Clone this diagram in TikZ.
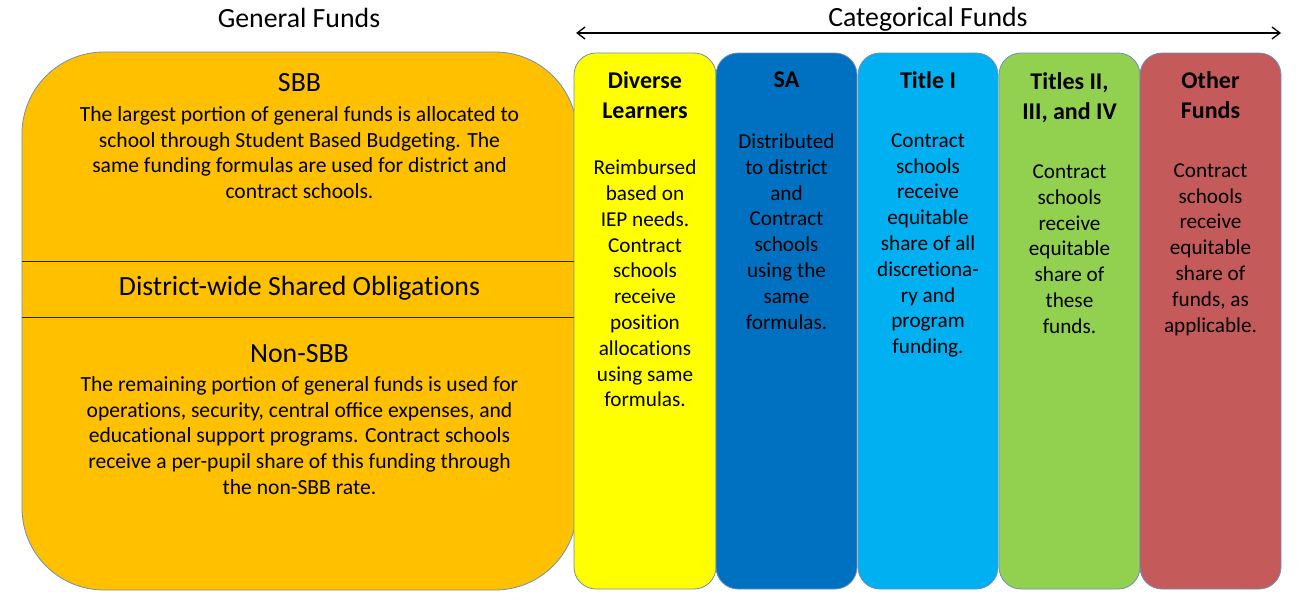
\documentclass[tikz,border=0pt]{standalone}
\usepackage{fontspec}
\setmainfont{Carlito}
\usetikzlibrary{arrows.meta}
\definecolor{gfund}{HTML}{FFC000}
\definecolor{dlcol}{HTML}{FFFF00}
\definecolor{sacol}{HTML}{0070C0}
\definecolor{ticol}{HTML}{00B0F0}
\definecolor{tiicol}{HTML}{92D050}
\definecolor{othcol}{HTML}{C55A5A}
\definecolor{bord}{HTML}{6F8FB8}
\newcommand\nolig{\kern0pt }
\tikzset{
  gtitle/.style={font=\fontsize{27.8}{33}\selectfont, inner sep=0pt},
  gbody/.style={font=\fontsize{21.6}{25.8}\selectfont, align=center, inner sep=0pt},
  ctitle/.style={font=\fontsize{24}{30}\selectfont\bfseries, align=center, inner sep=0pt},
  cbody/.style={font=\fontsize{21.2}{25.8}\selectfont, align=center, inner sep=0pt},
  colbox/.style={draw=bord, line width=0.8pt, rounded corners=22pt, minimum width=#1, minimum height=536pt, inner sep=0pt},
  genbox/.style={draw=bord, line width=0.8pt, fill=gfund, rounded corners=82pt, minimum width=555pt, minimum height=538pt, inner sep=0pt},
  divider/.style={draw=black!85, line width=0.9pt},
  spanarrow/.style={draw=black, line width=1.3pt, {Straight Barb[length=8pt,width=12pt]}-{Straight Barb[length=8pt,width=12pt]}}
}
\begin{document}
\begin{tikzpicture}[x=1pt,y=-1pt]
\useasboundingbox (0,0) rectangle (1300,603);
% headings
\node[gtitle] (gfh) at (299,18) {General Funds};
\node[gtitle] (cfh) at (928,19.5) {Categorical Funds};
\coordinate (al) at (576,33);
\coordinate (ar) at (1281,33);
\draw[spanarrow] (al) -- (ar);
% general funds box
\node[genbox] (gen) at (299.5,321) {};
\draw[divider] (22.4,261) -- (576.6,261);
\draw[divider] (22.4,317) -- (576.6,317);
\node[gtitle] (sbbt) at (299.5,83) {SBB};
\node[gbody] (sbbb) at (299.5,152.5) {The largest portion of general funds is allocated to\\school through Student Based Budget\nolig ing. The\\same funding formulas are used for district and\\contract schools.};
\node[gtitle] (dso) at (299.5,288) {District-wide Shared Obligat\nolig ions};
\node[gtitle] (nsbbt) at (299.5,354) {Non-SBB};
\node[gbody] (nsbbb) at (299.5,435.5) {The remaining portion of general funds is used for\\operat\nolig ions, security, central office expenses, and\\educat\nolig ional support programs. Contract schools\\receive a per-pupil share of this funding through\\the non-SBB rate.};
% categorical columns
\node[colbox=142pt, fill=dlcol] (dl) at (645,321) {};
\node[colbox=141pt, fill=sacol] (sa) at (786.5,321) {};
\node[colbox=140pt, fill=ticol] (ti) at (928,321) {};
\node[colbox=141pt, fill=tiicol] (tii) at (1069.5,321) {};
\node[colbox=141pt, fill=othcol] (oth) at (1210.5,321) {};
\node[ctitle] (dlt) at (645,95) {Diverse\\Learners};
\node[cbody] (dlb) at (645,283.5) {Reimbursed\\based on\\IEP needs.\\Contract\\schools\\receive\\posit\nolig ion\\allocat\nolig ions\\using same\\formulas.};
\node[ctitle] (sat) at (786.5,80) {SA};
\node[cbody] (sab) at (786.5,231.5) {Distributed\\to district\\and\\Contract\\schools\\using the\\same\\formulas.};
\node[ctitle] (tit) at (928,80) {Title I};
\node[cbody] (tib) at (928,245.5) {Contract\\schools\\receive\\equitable\\share of all\\discret\nolig iona-\\ry and\\program\\funding.};
\node[ctitle] (tiit) at (1069.5,97.5) {Titles II,\\III, and IV};
\node[cbody] (tiib) at (1069.5,249) {Contract\\schools\\receive\\equitable\\share of\\these\\funds.};
\node[ctitle] (otht) at (1210.5,95) {Other\\Funds};
\node[cbody] (othb) at (1210.5,249.5) {Contract\\schools\\receive\\equitable\\share of\\funds, as\\applicable.};
\end{tikzpicture}
\end{document}
